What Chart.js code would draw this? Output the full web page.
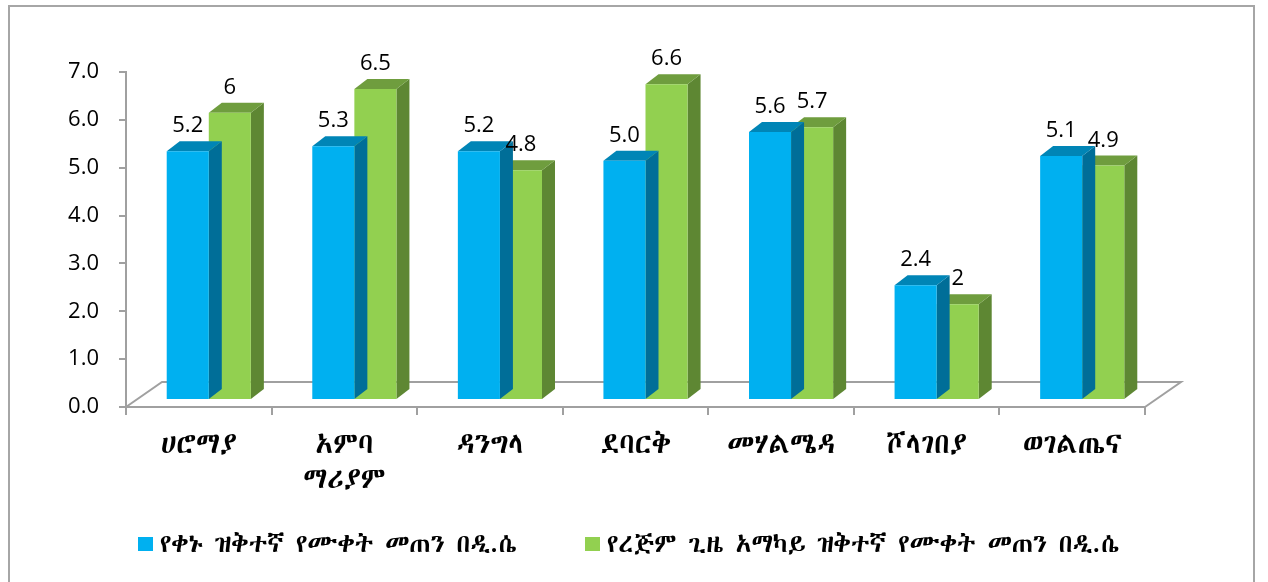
<!DOCTYPE html>
<html><head><meta charset="utf-8">
<script src="https://cdn.jsdelivr.net/npm/chart.js@4"></script>
<style>
html,body{margin:0;padding:0;background:#fff;}
#wrap{width:1268px;height:582px;position:relative;overflow:hidden;}
#legend{position:absolute;left:138px;top:529px;height:30px;display:flex;align-items:center;gap:68px;
  font-family:'Abyssinica SIL','Noto Sans Ethiopic','DejaVu Sans',sans-serif;font-size:26px;line-height:30px;color:#000;white-space:nowrap;}
#legend .item{display:flex;align-items:center;}
#legend .box{width:15px;height:14px;margin-right:7px;display:inline-block;}
</style>
</head><body><div id="wrap"><canvas id="c" width="1268" height="582"></canvas><div id="legend"></div></div>
<script>
const categories = ['ሀሮማያ', ['አምባ', 'ማሪያም'], 'ዳንግላ', 'ደባርቅ', 'መሃልሜዳ', 'ሾላገበያ', 'ወገልጤና'];
const seriesNames = ['የቀኑ ዝቅተኛ የሙቀት መጠን በዲ.ሴ', 'የረጅም ጊዜ አማካይ ዝቅተኛ የሙቀት መጠን በዲ.ሴ'];
const dailyMin = [5.2, 5.3, 5.2, 5.0, 5.6, 2.4, 5.1];
const longTermMin = [6, 6.5, 4.8, 6.6, 5.7, 2, 4.9];
const dailyMinLabels = ['5.2', '5.3', '5.2', '5.0', '5.6', '2.4', '5.1'];
const longTermMinLabels = ['6', '6.5', '4.8', '6.6', '5.7', '2', '4.9'];
const yTickLabels = ['0.0', '1.0', '2.0', '3.0', '4.0', '5.0', '6.0', '7.0'];

const ETH = "'Abyssinica SIL','Noto Sans Ethiopic','Noto Serif Ethiopic','DejaVu Sans',sans-serif";
const NUM = "'Open Sans','Liberation Sans',sans-serif";
const DX = 10, DY = -7;
const BD_X = 13, BD_Y = -10;
const FL_X = 36, FL_Y = -25;
const faces = [{top: '#0085B6', side: '#006E98'}, {top: '#6F9D3E', side: '#5E8733'}];
const valueLabels = [dailyMinLabels, longTermMinLabels];
const AXIS = '#A0A0A0';

const threeD = {
  id: 'threeD',
  beforeDraw(chart) {
    const ctx = chart.ctx;
    ctx.save();
    ctx.fillStyle = '#fff';
    ctx.fillRect(0, 0, chart.width, chart.height);
    ctx.strokeStyle = '#A6A6A6';
    ctx.lineWidth = 2;
    ctx.strokeRect(9, 6, 1245, 620);
    ctx.restore();
  },
  beforeDatasetsDraw(chart) {
    const ctx = chart.ctx, a = chart.chartArea;
    const y0 = chart.scales.y.getPixelForValue(0);
    ctx.save();
    ctx.strokeStyle = AXIS;
    ctx.lineWidth = 2;
    ctx.beginPath();
    ctx.moveTo(a.left, y0);
    ctx.lineTo(a.left + FL_X, y0 + FL_Y);
    ctx.lineTo(a.right + FL_X, y0 + FL_Y);
    ctx.lineTo(a.right, y0);
    ctx.stroke();
    ctx.restore();
    ctx.save();
    ctx.translate(DX, DY);
  },
  beforeDatasetDraw(chart, args) {
    const ctx = chart.ctx;
    const f = faces[args.index];
    args.meta.data.forEach(el => {
      const p = el.getProps(['x', 'y', 'width', 'base'], true);
      const L = p.x - p.width / 2, R = p.x + p.width / 2;
      ctx.fillStyle = f.side;
      ctx.beginPath();
      ctx.moveTo(R, p.y); ctx.lineTo(R + BD_X, p.y + BD_Y);
      ctx.lineTo(R + BD_X, p.base + BD_Y); ctx.lineTo(R, p.base);
      ctx.closePath(); ctx.fill();
      ctx.fillStyle = f.top;
      ctx.beginPath();
      ctx.moveTo(L, p.y); ctx.lineTo(L + BD_X, p.y + BD_Y);
      ctx.lineTo(R + BD_X, p.y + BD_Y); ctx.lineTo(R, p.y);
      ctx.closePath(); ctx.fill();
    });
  },
  afterDatasetsDraw(chart) {
    const ctx = chart.ctx;
    ctx.restore();
    ctx.save();
    ctx.font = '22px ' + NUM;
    ctx.fillStyle = '#000';
    ctx.textAlign = 'center';
    ctx.textBaseline = 'alphabetic';
    chart.data.datasets.forEach((ds, i) => {
      chart.getDatasetMeta(i).data.forEach((el, j) => {
        const p = el.getProps(['x', 'y'], true);
        ctx.fillText(valueLabels[i][j], p.x + DX, p.y + DY + BD_Y - 9);
      });
    });
    ctx.restore();
  }
};

const chart = new Chart(document.getElementById('c'), {
  type: 'bar',
  data: {
    labels: categories,
    datasets: [
      {label: seriesNames[0], data: dailyMin, backgroundColor: '#00B0F0', borderWidth: 0},
      {label: seriesNames[1], data: longTermMin, backgroundColor: '#92D050', borderWidth: 0}
    ]
  },
  options: {
    responsive: false,
    animation: false,
    events: [],
    datasets: {bar: {categoryPercentage: 0.578, barPercentage: 1}},
    layout: {padding: {left: 0, right: 123, top: 72, bottom: 80}},
    scales: {
      x: {
        grid: {drawOnChartArea: false, drawTicks: true, tickLength: 8, color: AXIS, lineWidth: 2},
        border: {display: true, color: AXIS, width: 2},
        ticks: {color: '#000', font: {family: ETH, size: 29, lineHeight: 1.22}, padding: 13, maxRotation: 0, autoSkip: false},
        afterFit(s) { s.height = 95; }
      },
      y: {
        min: 0, max: 7,
        grid: {drawOnChartArea: false, drawTicks: true, tickLength: 7, color: AXIS, lineWidth: 2},
        border: {display: true, color: AXIS, width: 2},
        ticks: {stepSize: 1, color: '#000', font: {family: NUM, size: 22}, padding: 20,
          callback: (v, i) => yTickLabels[i]},
        afterFit(s) { s.width = 126; }
      }
    },
    plugins: {
      legend: {display: false},
      tooltip: {enabled: false}
    }
  },
  plugins: [threeD]
});

// HTML legend built from the chart's datasets
const legendEl = document.getElementById('legend');
chart.data.datasets.forEach(ds => {
  const item = document.createElement('span');
  item.className = 'item';
  const box = document.createElement('span');
  box.className = 'box';
  box.style.background = ds.backgroundColor;
  const txt = document.createElement('span');
  txt.textContent = ds.label;
  item.appendChild(box);
  item.appendChild(txt);
  legendEl.appendChild(item);
});
</script></body></html>
